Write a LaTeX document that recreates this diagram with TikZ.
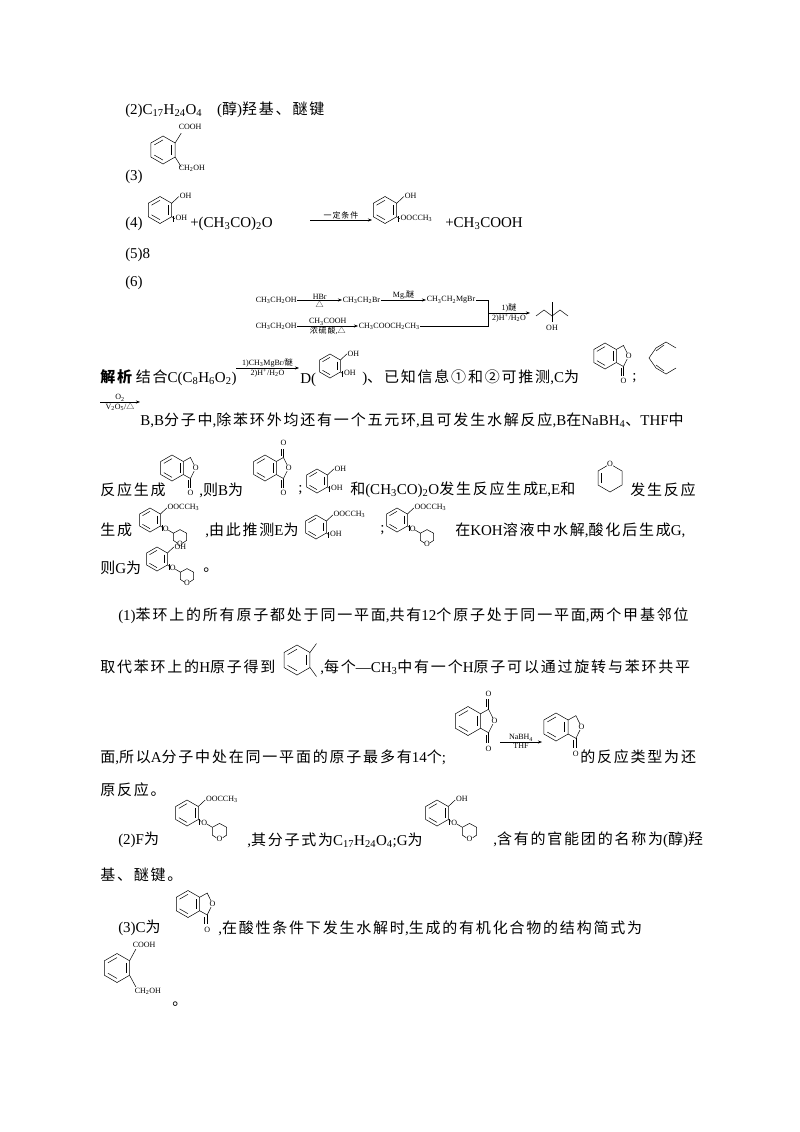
\documentclass[tikz,border=0pt]{standalone}
\usetikzlibrary{arrows.meta}
\usepackage{fontspec}
\setmainfont{Liberation Serif}
\newfontfamily\latinf{Liberation Serif}
\newfontfamily\cjkf[LetterSpace=12]{Noto Sans CJK SC}
\XeTeXinterchartokenstate=1
\newXeTeXintercharclass\cjkcls
\newcount\cc
\cc="3000 \loop \XeTeXcharclass\cc=\cjkcls \advance\cc 1 \ifnum\cc<"A000 \repeat
\cc="FF00 \loop \XeTeXcharclass\cc=\cjkcls \advance\cc 1 \ifnum\cc<"FFF0 \repeat
\cc="2460 \loop \XeTeXcharclass\cc=\cjkcls \advance\cc 1 \ifnum\cc<"2474 \repeat
\XeTeXcharclass"25B3=\cjkcls
\XeTeXinterchartoks 0 \cjkcls = {\cjkf}
\XeTeXinterchartoks 4095 \cjkcls = {\cjkf}
\XeTeXinterchartoks \cjkcls 0 = {\latinf}
\newcommand\sbs[1]{\textsubscript{#1}}
\newcommand\sps[1]{\textsuperscript{#1}}
\tikzset{
 tx/.style={anchor=west,inner sep=0pt,font=\fontsize{15}{18}\selectfont},
 lb/.style={inner sep=0.6pt,font=\fontsize{8}{9}\selectfont},
 ol/.style={inner sep=0.4pt,fill=white,font=\fontsize{8}{9}\selectfont},
 arr/.style={-{Stealth[length=4pt,width=3pt]},line width=0.5pt},
 every path/.style={line width=0.5pt}
}
\newcommand\ringbody{%
 \draw (0,-10)--(8.66,-5)--(8.66,5)--(0,10)--(-8.66,5)--(-8.66,-5)--cycle;
 \draw (6.24,-3.6)--(6.24,3.6); \draw (0,7.2)--(-6.24,3.6); \draw (-6.24,-3.6)--(0,-7.2);}
\newcommand\phth[3]{\begin{scope}[shift={(#1,#2)},scale=#3]\ringbody
 \draw (8.66,-5)--(14.2,-8.1)--(17.2,-2); \draw (17.2,2)--(14.2,8.1)--(8.66,5);
 \node[ol] at (18.2,0) {O};
 \draw (14.2,8.1)--(14.2,15); \draw (12.4,9.5)--(12.4,15);
 \node[lb] at (14.2,19) {O};\end{scope}}
\newcommand\anhy[3]{\begin{scope}[shift={(#1,#2)},scale=#3]\ringbody
 \draw (8.66,-5)--(14.2,-8.1)--(17.2,-2); \draw (17.2,2)--(14.2,8.1)--(8.66,5);
 \node[ol] at (18.2,0) {O};
 \draw (14.2,8.1)--(14.2,15); \draw (12.4,9.5)--(12.4,15);
 \node[lb] at (14.2,19) {O};
 \draw (14.2,-8.1)--(14.2,-15); \draw (12.4,-9.5)--(12.4,-15);
 \node[lb] at (14.2,-19) {O};\end{scope}}
\newcommand\disub[5]{\begin{scope}[shift={(#1,#2)},scale=#3]\ringbody
 \draw (8.66,-5)--(14,-10); \node[lb,anchor=west] at (14,-10.5) {#4};
 \draw (8.66,5)--(11,6.5); \draw (9.8,4.5)--(9.8,9); \node[lb,anchor=west] at (11,6) {#5};
 \end{scope}}
% ring + top label + O-THP
\newcommand\ftype[4]{\begin{scope}[shift={(#1,#2)},scale=#3]\ringbody
 \draw (8.66,-5)--(14,-10); \node[lb,anchor=west] at (14,-10.5) {#4};
 \draw (8.66,5)--(11,6.5); \draw (9.8,4.5)--(9.8,9);
 \node[lb] at (13.2,7.5) {O}; \draw (15.3,8.5)--(19.5,11);
 \draw (19.5,11)--(25,8)--(30.5,11)--(30.5,17)--(27.5,19); \draw (22.5,19)--(19.5,17)--(19.5,11);
 \node[lb] at (25,20) {O};
 \end{scope}}
\begin{document}
\begin{tikzpicture}[x=1pt,y=-1pt]
\useasboundingbox[fill=white] (0,0) rectangle (800,1132);
\node[tx] (a2) at (125,110) {(2)C\sbs{17}H\sbs{24}O\sbs{4}\quad(醇)羟基、醚键};
\begin{scope}[shift={(163,150)},scale=1.4]\ringbody
 \draw (8.66,-5)--(13,-12); \draw (8.66,5)--(13,12);\end{scope}
\node[lb,anchor=west] (c1) at (178,127) {COOH};
\node[lb,anchor=west] (c2) at (178,168) {CH\sbs{2}OH};
\node[tx] (a3) at (125,177) {(3)};
\node[tx] (a4) at (125,224) {(4)};
\disub{160}{210}{1.35}{OH}{OH}
\node[tx] (p1) at (190,224) {+(CH\sbs{3}CO)\sbs{2}O};
\coordinate (r1) at (310,220); \coordinate (r2) at (372,220);
\draw[arr] (r1)--(r2) node[midway,above,lb]{一定条件};
\disub{385}{210}{1.35}{OH}{OOCCH\sbs{3}}
\node[tx] (p2) at (445,224) {+CH\sbs{3}COOH};
\node[tx] (a5) at (125,255) {(5)8};
\node[tx] (a6) at (125,283) {(6)};
\begin{scope}[every node/.style={lb}]
\node[anchor=west] (s1) at (255,300) {CH\sbs{3}CH\sbs{2}OH};
\node[anchor=west] (s2) at (342,300) {CH\sbs{3}CH\sbs{2}Br};
\node[anchor=west] (s3) at (426,300) {CH\sbs{3}CH\sbs{2}MgBr};
\node[anchor=west] (s4) at (255,326) {CH\sbs{3}CH\sbs{2}OH};
\node[anchor=west] (s5) at (358,326) {CH\sbs{3}COOCH\sbs{2}CH\sbs{3}};
\end{scope}
\draw[arr] (s1.east)--(s2.west) node[midway,above,lb]{HBr} node[midway,below,lb]{△};
\draw[arr] (s2.east)--(s3.west) node[midway,above,lb]{Mg,醚};
\draw[arr] (s4.east)--(s5.west) node[midway,above,lb]{CH\sbs{3}COOH} node[midway,below,lb]{浓硫酸,△};
\coordinate (j1) at (488,300); \coordinate (j2) at (488,326); \coordinate (jm) at (488,313);
\draw (s3.east)--(j1)--(j2)--(s5.east);
\coordinate (jx) at (530,313);
\draw[arr] (jm)--(jx) node[midway,above,lb]{1)醚} node[midway,below,lb]{2)H\sps{+}/H\sbs{2}O};
\draw (536,316)--(544,310)--(552,316)--(560,310)--(568,316); \draw (552,316)--(552,302); \draw (552,316)--(552,322);
\node[lb] (oh6) at (552,328) {OH};
\node[tx] (j0) at (100,378) {{\cjkf\bfseries 解析}\ 结合C(C\sbs{8}H\sbs{6}O\sbs{2})};
\coordinate (q1) at (236,368); \coordinate (q2) at (299,368);
\draw[arr] (q1)--(q2) node[midway,above,lb]{1)CH\sbs{3}MgBr/醚} node[midway,below,lb]{2)H\sps{+}/H\sbs{2}O};
\node[tx] (j1t) at (300,380) {D(};
\disub{330}{366}{1.2}{OH}{OH}
\node[tx] (j2t) at (362,378) {)、已知信息①和②可推测,C为};
\phth{605}{356}{1.3}
\node[tx] at (632,378) {;};
\draw (676,348)--(666,342)--(656,348)--(649,358)--(656,368)--(666,374)--(676,368);
\draw (664,345)--(656,351); \draw (664,371)--(656,365);
\coordinate (o1) at (100,402); \coordinate (o2) at (140,402);
\draw[arr] (o1)--(o2) node[midway,above,lb]{O\sbs{2}} node[midway,below,lb]{V\sbs{2}O\sbs{5}/△};
\node[tx] (l2) at (140,420) {B,B分子中,除苯环外均还有一个五元环,且可发生水解反应,B在NaBH\sbs{4}、THF中};
\node[tx] (l3a) at (100,490) {反应生成};
\phth{172}{468}{1.3}
\node[tx] (l3b) at (199,490) {,则B为};
\anhy{265}{468}{1.3}
\node[tx] at (298,490) {;};
\disub{317}{481}{1.2}{OH}{OH}
\node[tx] (l3c) at (350,490) {和(CH\sbs{3}CO)\sbs{2}O发生反应生成E,E和};
\begin{scope}[shift={(610,478)}]
 \draw (0,-14)--(12,-7)--(12,7)--(0,14)--(-12,7)--(-12,-7)--cycle; \draw (-9,-5)--(-9,5);
 \node[ol] at (0,-14) {O};\end{scope}
\node[tx] (l3d) at (630,490) {发生反应};
\node[tx] (l4a) at (100,530) {生成};
\ftype{150}{520}{1.2}{OOCCH\sbs{3}}
\node[tx] (l4b) at (205,530) {,由此推测E为};
\disub{316}{527}{1.2}{OOCCH\sbs{3}}{OH}
\node[tx] at (380,530) {;};
\ftype{397}{520}{1.2}{OOCCH\sbs{3}}
\node[tx] (l4c) at (455,530) {在KOH溶液中水解,酸化后生成G,};
\node[tx] (l5a) at (100,568) {则G为};
\ftype{157}{559}{1.2}{OH}
\node[tx] at (203,570) {。};
\node[tx] (m1) at (118,616) {(1)苯环上的所有原子都处于同一平面,共有12个原子处于同一平面,两个甲基邻位};
\node[tx] (m2) at (100,667) {取代苯环上的H原子得到};
\begin{scope}[shift={(297,660)},scale=1.5]\ringbody
 \draw (8.66,-5)--(13,-11); \draw (8.66,5)--(13,11);\end{scope}
\node[tx] (m3) at (320,667) {,每个—CH\sbs{3}中有一个H原子可以通过旋转与苯环共平};
\node[tx] (m4) at (100,757) {面,所以A分子中处在同一平面的原子最多有14个;};
\anhy{468}{721}{1.45}
\coordinate (n1) at (500,742); \coordinate (n2) at (542,742);
\draw[arr] (n1)--(n2) node[midway,above,lb]{NaBH\sbs{4}} node[midway,below,lb]{THF};
\phth{556}{727}{1.4}
\node[tx] (m5) at (580,757) {的反应类型为还};
\node[tx] (m6) at (100,790) {原反应。};
\node[tx] (k1) at (118,840) {(2)F为};
\ftype{187}{813}{1.3}{OOCCH\sbs{3}}
\node[tx] (k2) at (247,840) {,其分子式为C\sbs{17}H\sbs{24}O\sbs{4};G为};
\ftype{437}{813}{1.3}{OH}
\node[tx] (k3) at (493,840) {,含有的官能团的名称为(醇)羟};
\node[tx] (k4) at (100,875) {基、醚键。};
\node[tx] (h1) at (118,928) {(3)C为};
\phth{188}{904}{1.35}
\node[tx] (h2) at (218,928) {,在酸性条件下发生水解时,生成的有机化合物的结构简式为};
\begin{scope}[shift={(117,968)},scale=1.45]\ringbody
 \draw (8.66,-5)--(13,-13); \draw (8.66,5)--(13,13);\end{scope}
\node[lb,anchor=west] (h3) at (132,945) {COOH};
\node[lb,anchor=west] (h4) at (134,991) {CH\sbs{2}OH};
\node[tx] (h5) at (172,1004) {。};
\end{tikzpicture}
\end{document}
